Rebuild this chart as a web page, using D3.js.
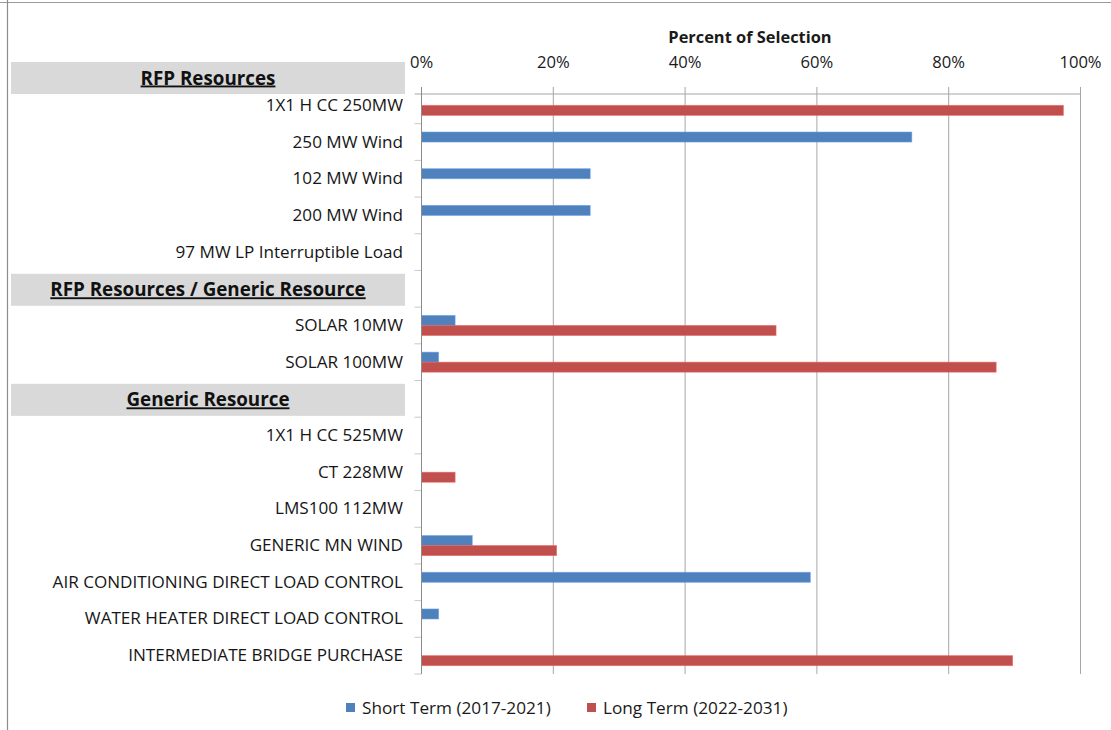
<!DOCTYPE html>
<html>
<head>
<meta charset="utf-8">
<script src="https://cdn.jsdelivr.net/npm/d3@7"></script>
<style>
  html, body { margin: 0; padding: 0; background: #fff; }
  svg { display: block; font-family: "Open Sans", Lato, sans-serif; }
</style>
</head>
<body>
<svg id="chart" width="1111" height="730"></svg>
<script>
// Resource rows, top to bottom (section headings sit inside the list as blank rows)
const categories = [
  "1X1 H CC 250MW",
  "250 MW Wind",
  "102 MW Wind",
  "200 MW Wind",
  "97 MW LP Interruptible Load",
  "RFP Resources / Generic Resource",
  "SOLAR 10MW",
  "SOLAR 100MW",
  "Generic Resource",
  "1X1 H CC 525MW",
  "CT 228MW",
  "LMS100 112MW",
  "GENERIC MN WIND",
  "AIR CONDITIONING DIRECT LOAD CONTROL",
  "WATER HEATER DIRECT LOAD CONTROL",
  "INTERMEDIATE BRIDGE PURCHASE"
];
const topSection = "RFP Resources";
const sectionRows = ["RFP Resources / Generic Resource", "Generic Resource"];

// Percent of selection per resource
const shortTerm = [0, 74.4, 25.6, 25.6, 0, null, 5.1, 2.6, null, 0, 0, 0, 7.7, 59.0, 2.6, 0];
const longTerm  = [97.4, 0, 0, 0, 0, null, 53.8, 87.2, null, 0, 5.1, 0, 20.5, 0, 0, 89.7];

const seriesNames = ["Short Term (2017-2021)", "Long Term (2022-2031)"];
const seriesColors = ["#4F81BD", "#C0504D"];
const xTicks = [0, 20, 40, 60, 80, 100];
const xTitle = "Percent of Selection";

const svg = d3.select("#chart");

// outer frame (top and left edges)
svg.append("line").attr("x1", 0).attr("x2", 1111).attr("y1", 2.5).attr("y2", 2.5)
  .attr("stroke", "#9a9a9a").attr("stroke-width", 1.2);
svg.append("line").attr("x1", 7.5).attr("x2", 7.5).attr("y1", 0).attr("y2", 730)
  .attr("stroke", "#8c8c8c").attr("stroke-width", 1.2);

const plot = { left: 421.5, right: 1080.5, top: 87, bottom: 674 };
const axisY = 94;

const x = d3.scaleLinear().domain([0, 100]).range([plot.left, plot.right]);
const y = d3.scaleBand().domain(categories).range([plot.top, plot.bottom]).padding(0);
const sub = d3.scaleBand().domain([0, 1]).range([0, 20]).padding(0);

// vertical gridlines
svg.append("g").selectAll("line").data(xTicks).join("line")
  .attr("x1", d => x(d)).attr("x2", d => x(d))
  .attr("y1", plot.top).attr("y2", plot.bottom)
  .attr("stroke", "#a6a6a6").attr("stroke-width", 1);

// top value axis line
svg.append("line").attr("x1", plot.left - 7).attr("x2", plot.right)
  .attr("y1", axisY).attr("y2", axisY)
  .attr("stroke", "#a6a6a6").attr("stroke-width", 1);

// tick labels and axis title
svg.append("g").selectAll("text").data(xTicks).join("text")
  .attr("x", d => x(d)).attr("y", 67.5)
  .attr("text-anchor", "middle")
  .attr("font-size", 16.6).attr("fill", "#1a1a1a")
  .text(d => d + "%");
svg.append("text").attr("x", 750).attr("y", 42.5)
  .attr("text-anchor", "middle").attr("font-weight", "bold")
  .attr("font-size", 16.4).attr("fill", "#1a1a1a")
  .text(xTitle);

// category tick marks on the left axis
const bounds = categories.map(c => y(c)).concat([plot.bottom]).slice(1);
svg.append("g").selectAll("line").data(bounds).join("line")
  .attr("x1", plot.left - 7).attr("x2", plot.left)
  .attr("y1", d => d).attr("y2", d => d)
  .attr("stroke", "#c8c8c8").attr("stroke-width", 1);

// section heading boxes
function sectionBox(cy, label) {
  svg.append("rect").attr("x", 11).attr("y", cy - 16).attr("width", 394).attr("height", 32)
    .attr("fill", "#d9d9d9");
  svg.append("text").attr("x", 208).attr("y", cy + 6.5)
    .attr("text-anchor", "middle").attr("font-weight", "bold")
    .attr("font-size", 18.8).attr("fill", "#111")
    .attr("text-decoration", "underline")
    .text(label);
}
sectionBox(axisY - 16, topSection);
sectionRows.forEach(r => sectionBox(y(r) + y.bandwidth() / 2 + 1, r));

// category labels
svg.append("g").selectAll("text")
  .data(categories.filter(c => !sectionRows.includes(c))).join("text")
  .attr("x", 403).attr("y", c => y(c) + y.bandwidth() / 2 + 5.5)
  .attr("text-anchor", "end").attr("font-size", 17.1).attr("fill", "#161616")
  .text(c => c);

// bars
const series = [shortTerm, longTerm];
series.forEach((vals, s) => {
  svg.append("g").selectAll("rect")
    .data(categories.map((c, i) => ({ c, v: vals[i] })).filter(d => d.v > 0))
    .join("rect")
    .attr("x", x(0))
    .attr("y", d => y(d.c) + y.bandwidth() / 2 - 10 + sub(s))
    .attr("width", d => x(d.v) - x(0))
    .attr("height", sub.bandwidth())
    .attr("fill", seriesColors[s])
    .attr("stroke", d3.color(seriesColors[s]).brighter(0.6))
    .attr("stroke-width", 0.8)
    .attr("stroke-opacity", 0.7);
});

// left category axis line
svg.append("line").attr("x1", plot.left).attr("x2", plot.left)
  .attr("y1", plot.top).attr("y2", plot.bottom)
  .attr("stroke", "#8c8c8c").attr("stroke-width", 1);

// legend
const legendX = [346, 587];
seriesNames.forEach((name, i) => {
  svg.append("rect").attr("x", legendX[i]).attr("y", 703).attr("width", 9).attr("height", 9)
    .attr("fill", seriesColors[i]);
  svg.append("text").attr("x", legendX[i] + 16).attr("y", 714)
    .attr("font-size", 17.2).attr("fill", "#1a1a1a").text(name);
});
</script>
</body>
</html>
